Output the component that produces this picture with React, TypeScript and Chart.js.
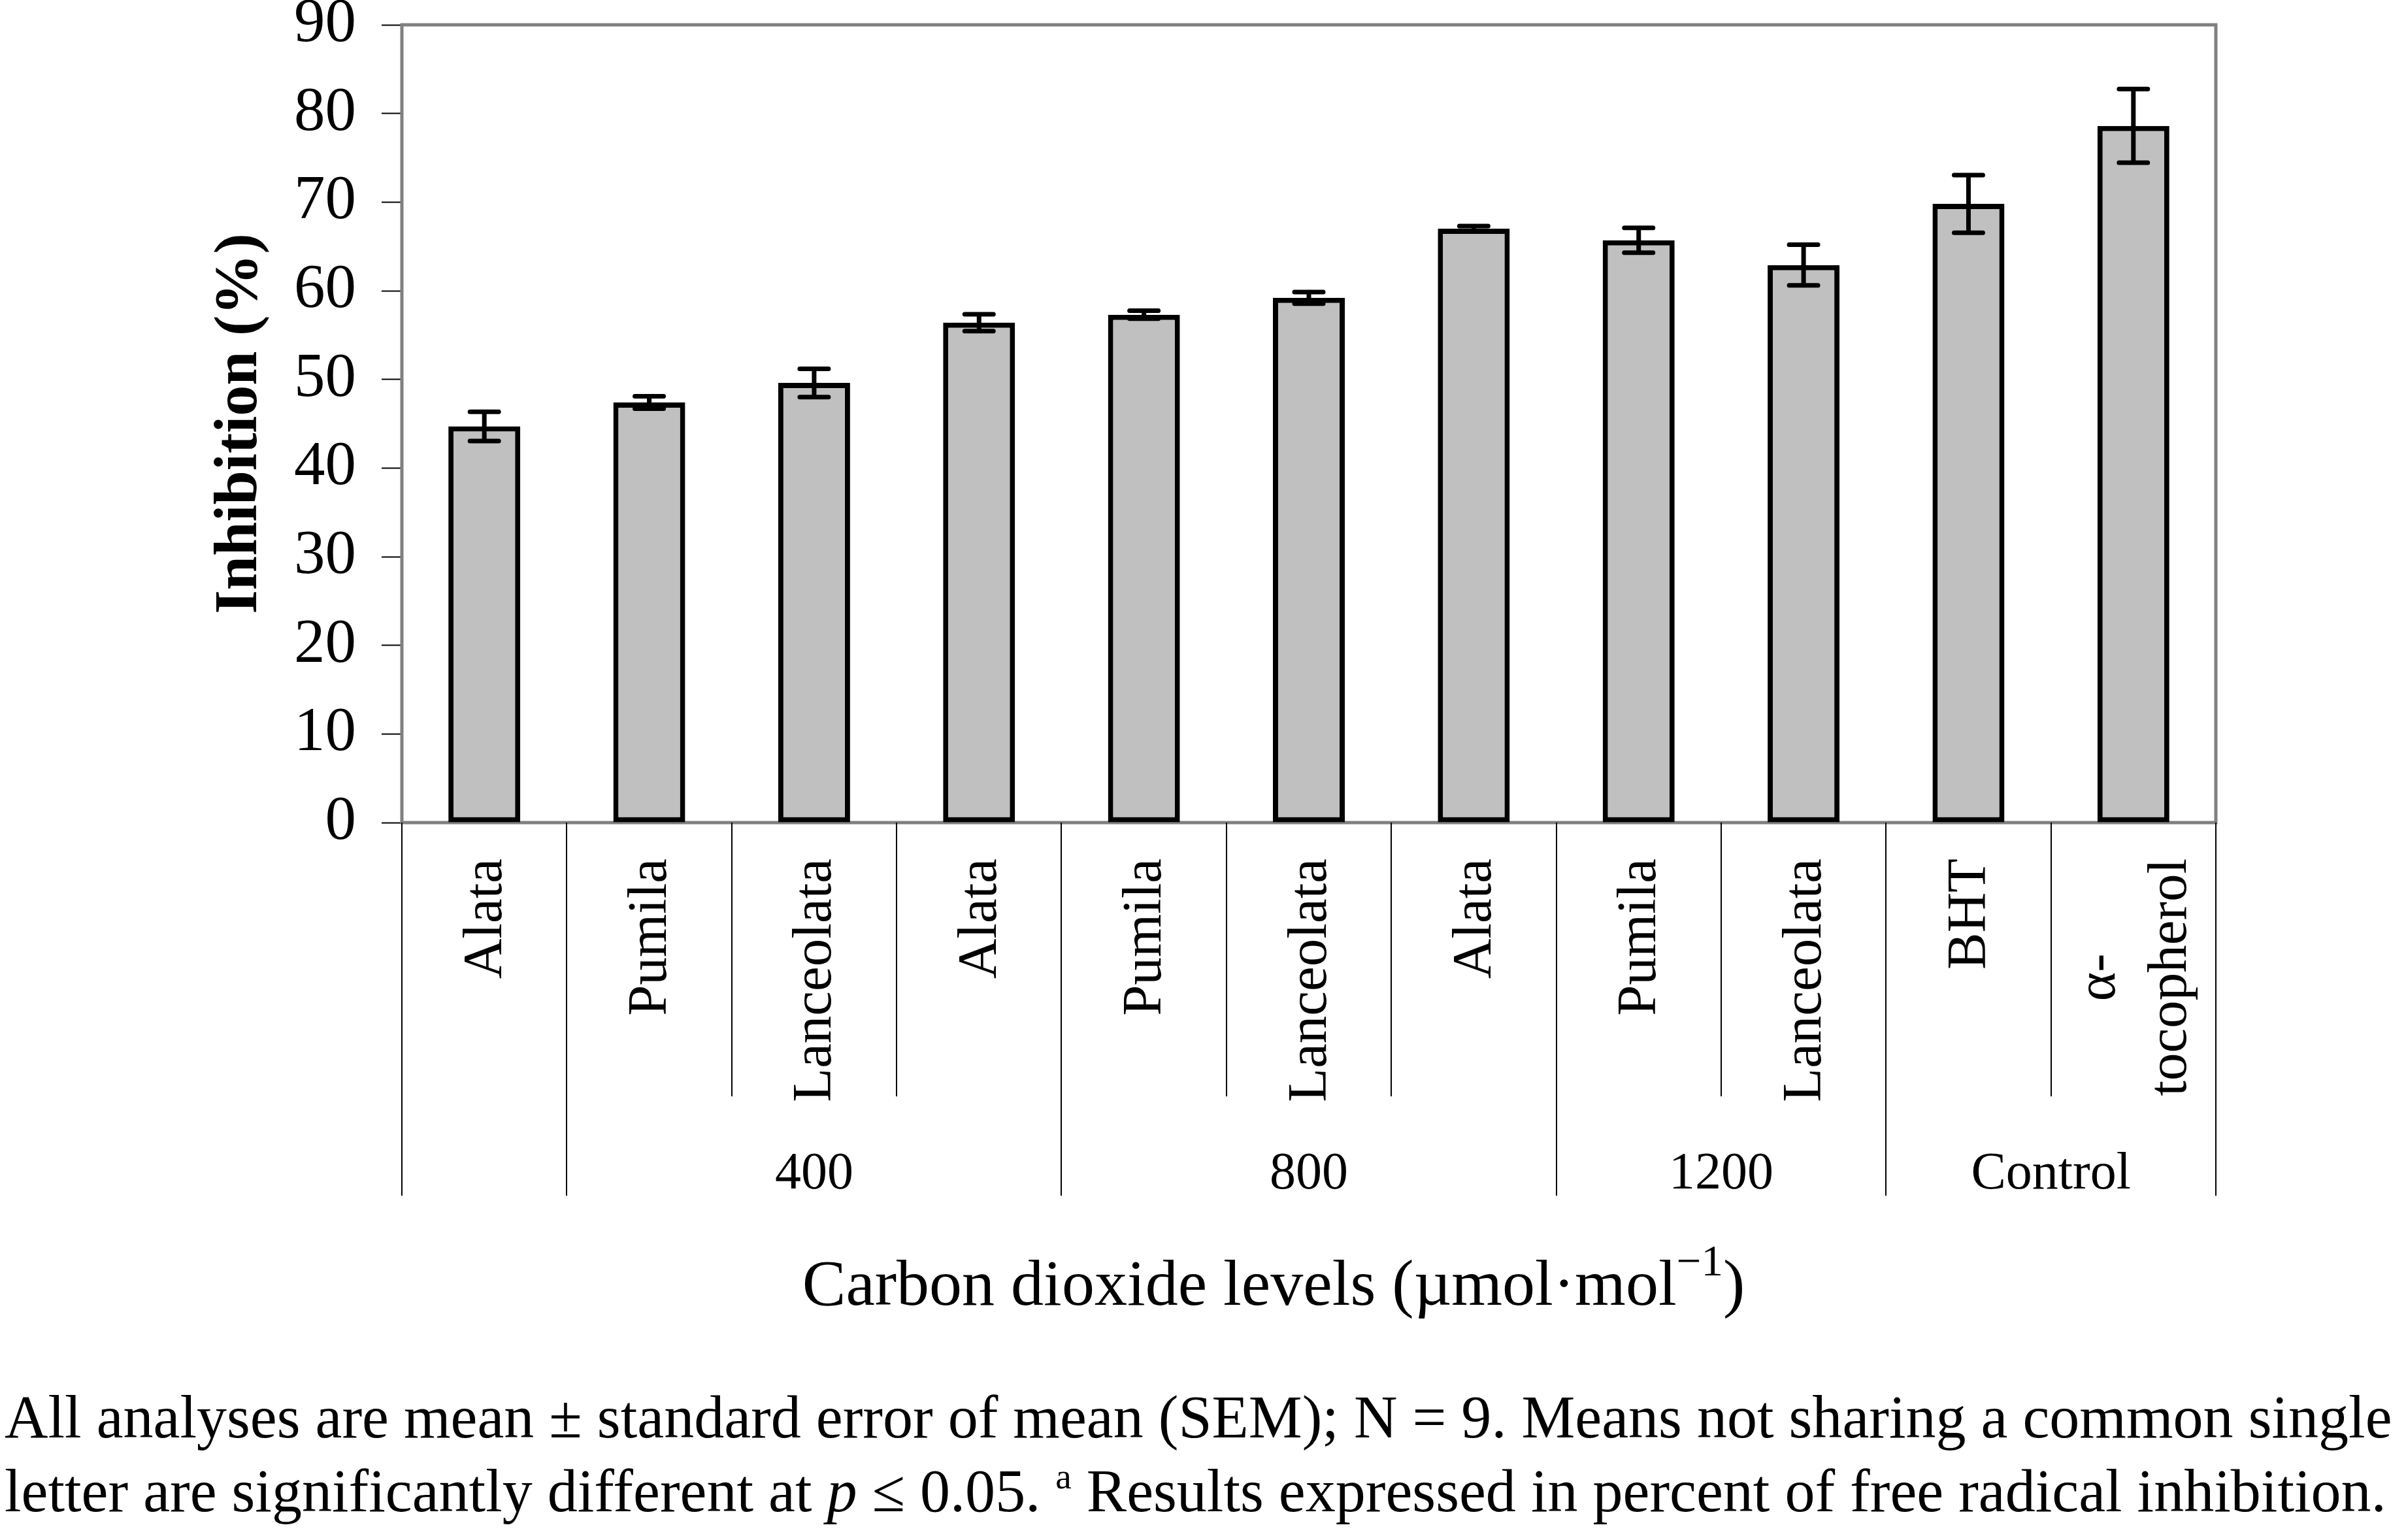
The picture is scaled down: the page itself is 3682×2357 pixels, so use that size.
import React, { useEffect, useRef } from 'react';
import { Chart, registerables } from 'chart.js';

Chart.register(...registerables);

const FONT = "'Liberation Serif', 'Times New Roman', Times, serif";
const W = 3682;
const H = 2357;

// ---- data ----
const categories: (string | string[])[] = [
  'Alata', 'Pumila', 'Lanceolata',
  'Alata', 'Pumila', 'Lanceolata',
  'Alata', 'Pumila', 'Lanceolata',
  'BHT', ['α-', 'tocopherol'],
];
const inhibition = [44.7, 47.4, 49.6, 56.4, 57.3, 59.2, 67.0, 65.7, 62.9, 69.8, 78.6];
const sem = [1.65, 0.7, 1.6, 0.95, 0.45, 0.65, 0.3, 1.4, 2.3, 3.25, 4.15];
const groupLabels = ['', '400', '800', '1200', 'Control'];
const groupSizes = [1, 3, 3, 2, 2];
const yMin = 0;
const yMax = 90;
const yStep = 10;
const yTitle = 'Inhibition (%)';

type Run = { text: string; italic?: boolean; sup?: boolean };
const xTitleRuns: Run[] = [
  { text: 'Carbon dioxide levels (µmol·mol' },
  { text: '−1', sup: true },
  { text: ')' },
];
const footnoteLines: Run[][] = [
  [{ text: 'All analyses are mean ± standard error of mean (SEM); N = 9. Means not sharing a common single' }],
  [
    { text: 'letter are significantly different at ' },
    { text: 'p', italic: true },
    { text: ' ≤ 0.05. ' },
    { text: 'a', sup: true },
    { text: ' Results expressed in percent of free radical inhibition.' },
  ],
];

function runFont(r: Run, size: number, supScale: number) {
  const s = r.sup ? size * supScale : size;
  return `${r.italic ? 'italic ' : ''}${s}px ${FONT}`;
}

function measureRuns(ctx: CanvasRenderingContext2D, runs: Run[], size: number, supScale: number) {
  let w = 0;
  for (const r of runs) {
    ctx.font = runFont(r, size, supScale);
    w += ctx.measureText(r.text).width;
  }
  return w;
}

function drawRuns(
  ctx: CanvasRenderingContext2D, runs: Run[], x: number, baseline: number,
  size: number, supScale: number, supRaise: number,
) {
  let cx = x;
  ctx.textAlign = 'left';
  ctx.textBaseline = 'alphabetic';
  for (const r of runs) {
    ctx.font = runFont(r, size, supScale);
    ctx.fillText(r.text, cx, r.sup ? baseline - supRaise : baseline);
    cx += ctx.measureText(r.text).width;
  }
}

const decorPlugin = {
  id: 'decor',
  beforeDatasetsDraw(chart: any) {
    const { ctx, chartArea: a } = chart;
    ctx.save();
    ctx.strokeStyle = '#808080';
    ctx.lineWidth = 5;
    ctx.strokeRect(a.left, a.top, a.right - a.left, a.bottom - a.top);
    ctx.restore();
  },
  afterDatasetsDraw(chart: any) {
    const ctx: CanvasRenderingContext2D = chart.ctx;
    const yScale = chart.scales.y;
    const meta = chart.getDatasetMeta(0);
    const values = chart.data.datasets[0].data as number[];
    ctx.save();
    ctx.strokeStyle = '#000';
    ctx.lineWidth = 7;
    meta.data.forEach((bar: any, i: number) => {
      const x = bar.x;
      const v = values[i];
      const e = sem[i];
      const yt = yScale.getPixelForValue(v + e);
      const yb = yScale.getPixelForValue(v - e);
      ctx.lineCap = 'butt';
      ctx.beginPath();
      ctx.moveTo(x, yt);
      ctx.lineTo(x, yb);
      ctx.stroke();
      ctx.lineCap = 'round';
      ctx.beginPath();
      ctx.moveTo(x - 22, yt);
      ctx.lineTo(x + 22, yt);
      ctx.moveTo(x - 22, yb);
      ctx.lineTo(x + 22, yb);
      ctx.stroke();
    });
    ctx.restore();
  },
  afterDraw(chart: any) {
    const ctx: CanvasRenderingContext2D = chart.ctx;
    const a = chart.chartArea;
    const xs = chart.scales.x;
    ctx.save();
    ctx.fillStyle = '#000';
    ctx.strokeStyle = '#000';

    // category labels (rotated, reading upward, ending near the axis)
    const labSize = 85;
    const labEnd = a.bottom + 55;
    const lineGap = 109;
    ctx.font = `${labSize}px ${FONT}`;
    ctx.textBaseline = 'alphabetic';
    categories.forEach((lab, i) => {
      const lines = Array.isArray(lab) ? lab : [lab];
      const cx = xs.getPixelForValue(i);
      const widths = lines.map((l) => ctx.measureText(l).width);
      const maxW = Math.max(...widths);
      lines.forEach((l, j) => {
        const bx = cx + labSize * 0.3 + (j - (lines.length - 1) / 2) * lineGap;
        ctx.save();
        ctx.translate(bx, labEnd);
        ctx.rotate(-Math.PI / 2);
        if (lines.length > 1) {
          ctx.textAlign = 'center';
          ctx.fillText(l, -maxW / 2, 0);
        } else {
          ctx.textAlign = 'right';
          ctx.fillText(l, 0, 0);
        }
        ctx.restore();
      });
    });

    // separators
    const longB = new Set<number>();
    let acc = 0;
    longB.add(0);
    groupSizes.forEach((s) => { acc += s; longB.add(acc); });
    ctx.lineWidth = 2;
    for (let b = 0; b <= categories.length; b++) {
      const px = Math.round(xs.getPixelForValue(b - 0.5));
      const end = longB.has(b) ? a.bottom + 571 : a.bottom + 419;
      ctx.beginPath();
      ctx.moveTo(px, a.bottom);
      ctx.lineTo(px, end);
      ctx.stroke();
    }

    // group labels
    ctx.font = `80px ${FONT}`;
    ctx.textAlign = 'center';
    ctx.textBaseline = 'alphabetic';
    let start = 0;
    groupSizes.forEach((s, g) => {
      const gx = xs.getPixelForValue(start + s / 2 - 0.5);
      if (groupLabels[g]) ctx.fillText(groupLabels[g], gx, a.bottom + 560);
      start += s;
    });

    // x axis title
    const tSize = 100;
    const tw = measureRuns(ctx, xTitleRuns, tSize, 0.67);
    const tcx = (a.left + a.right) / 2 - 54;
    drawRuns(ctx, xTitleRuns, tcx - tw / 2, a.bottom + 738, tSize, 0.67, 45);

    // footnote: size chosen so the first line spans the figure width
    const baseSize = 93;
    const w0 = measureRuns(ctx, footnoteLines[0], baseSize, 0.6);
    const fSize = Math.min(baseSize, (baseSize * 3654) / w0);
    drawRuns(ctx, footnoteLines[0], 7, 2200, fSize, 0.6, fSize * 0.38);
    drawRuns(ctx, footnoteLines[1], 7, 2313, fSize, 0.6, fSize * 0.38);

    ctx.restore();
  },
};

export default function App() {
  const ref = useRef<HTMLCanvasElement | null>(null);

  useEffect(() => {
    document.body.style.margin = '0';
    document.body.style.overflow = 'hidden';
    const canvas = ref.current;
    if (!canvas) return;
    const chart = new Chart(canvas, {
      type: 'bar',
      data: {
        labels: categories as any,
        datasets: [
          {
            data: inhibition,
            backgroundColor: '#C0C0C0',
            borderColor: '#000000',
            borderWidth: 8,
            borderSkipped: false,
            barPercentage: 0.436,
            categoryPercentage: 1,
          },
        ],
      },
      options: {
        responsive: false,
        animation: false,
        devicePixelRatio: 1,
        layout: { padding: { top: 38, right: W - 3391, left: 0, bottom: 0 } },
        plugins: {
          legend: { display: false },
          tooltip: { enabled: false },
          title: { display: false },
        },
        scales: {
          x: {
            type: 'category',
            ticks: { display: false },
            grid: { display: false },
            border: { display: false },
            afterFit: (s: any) => {
              s.height = H - 1259;
              s.paddingLeft = 0;
              s.paddingRight = 0;
            },
          },
          y: {
            min: yMin,
            max: yMax,
            ticks: {
              stepSize: yStep,
              color: '#000',
              padding: 39,
              font: { family: FONT, size: 95 },
            },
            grid: {
              drawOnChartArea: false,
              drawTicks: true,
              tickLength: 31,
              tickColor: '#000',
              tickWidth: 2,
            },
            border: { display: false },
            title: {
              display: true,
              text: yTitle,
              color: '#000',
              font: { family: FONT, size: 94, weight: 'bold' },
              padding: { top: 311, bottom: 0 },
            },
            afterFit: (s: any) => {
              s.width = 615;
              s.paddingTop = 0;
              s.paddingBottom = 0;
            },
          },
        },
      } as any,
      plugins: [decorPlugin],
    });
    return () => chart.destroy();
  }, []);

  return (
    <div style={{ width: W, height: H, background: '#fff' }}>
      <canvas ref={ref} width={W} height={H} style={{ display: 'block' }} />
    </div>
  );
}
